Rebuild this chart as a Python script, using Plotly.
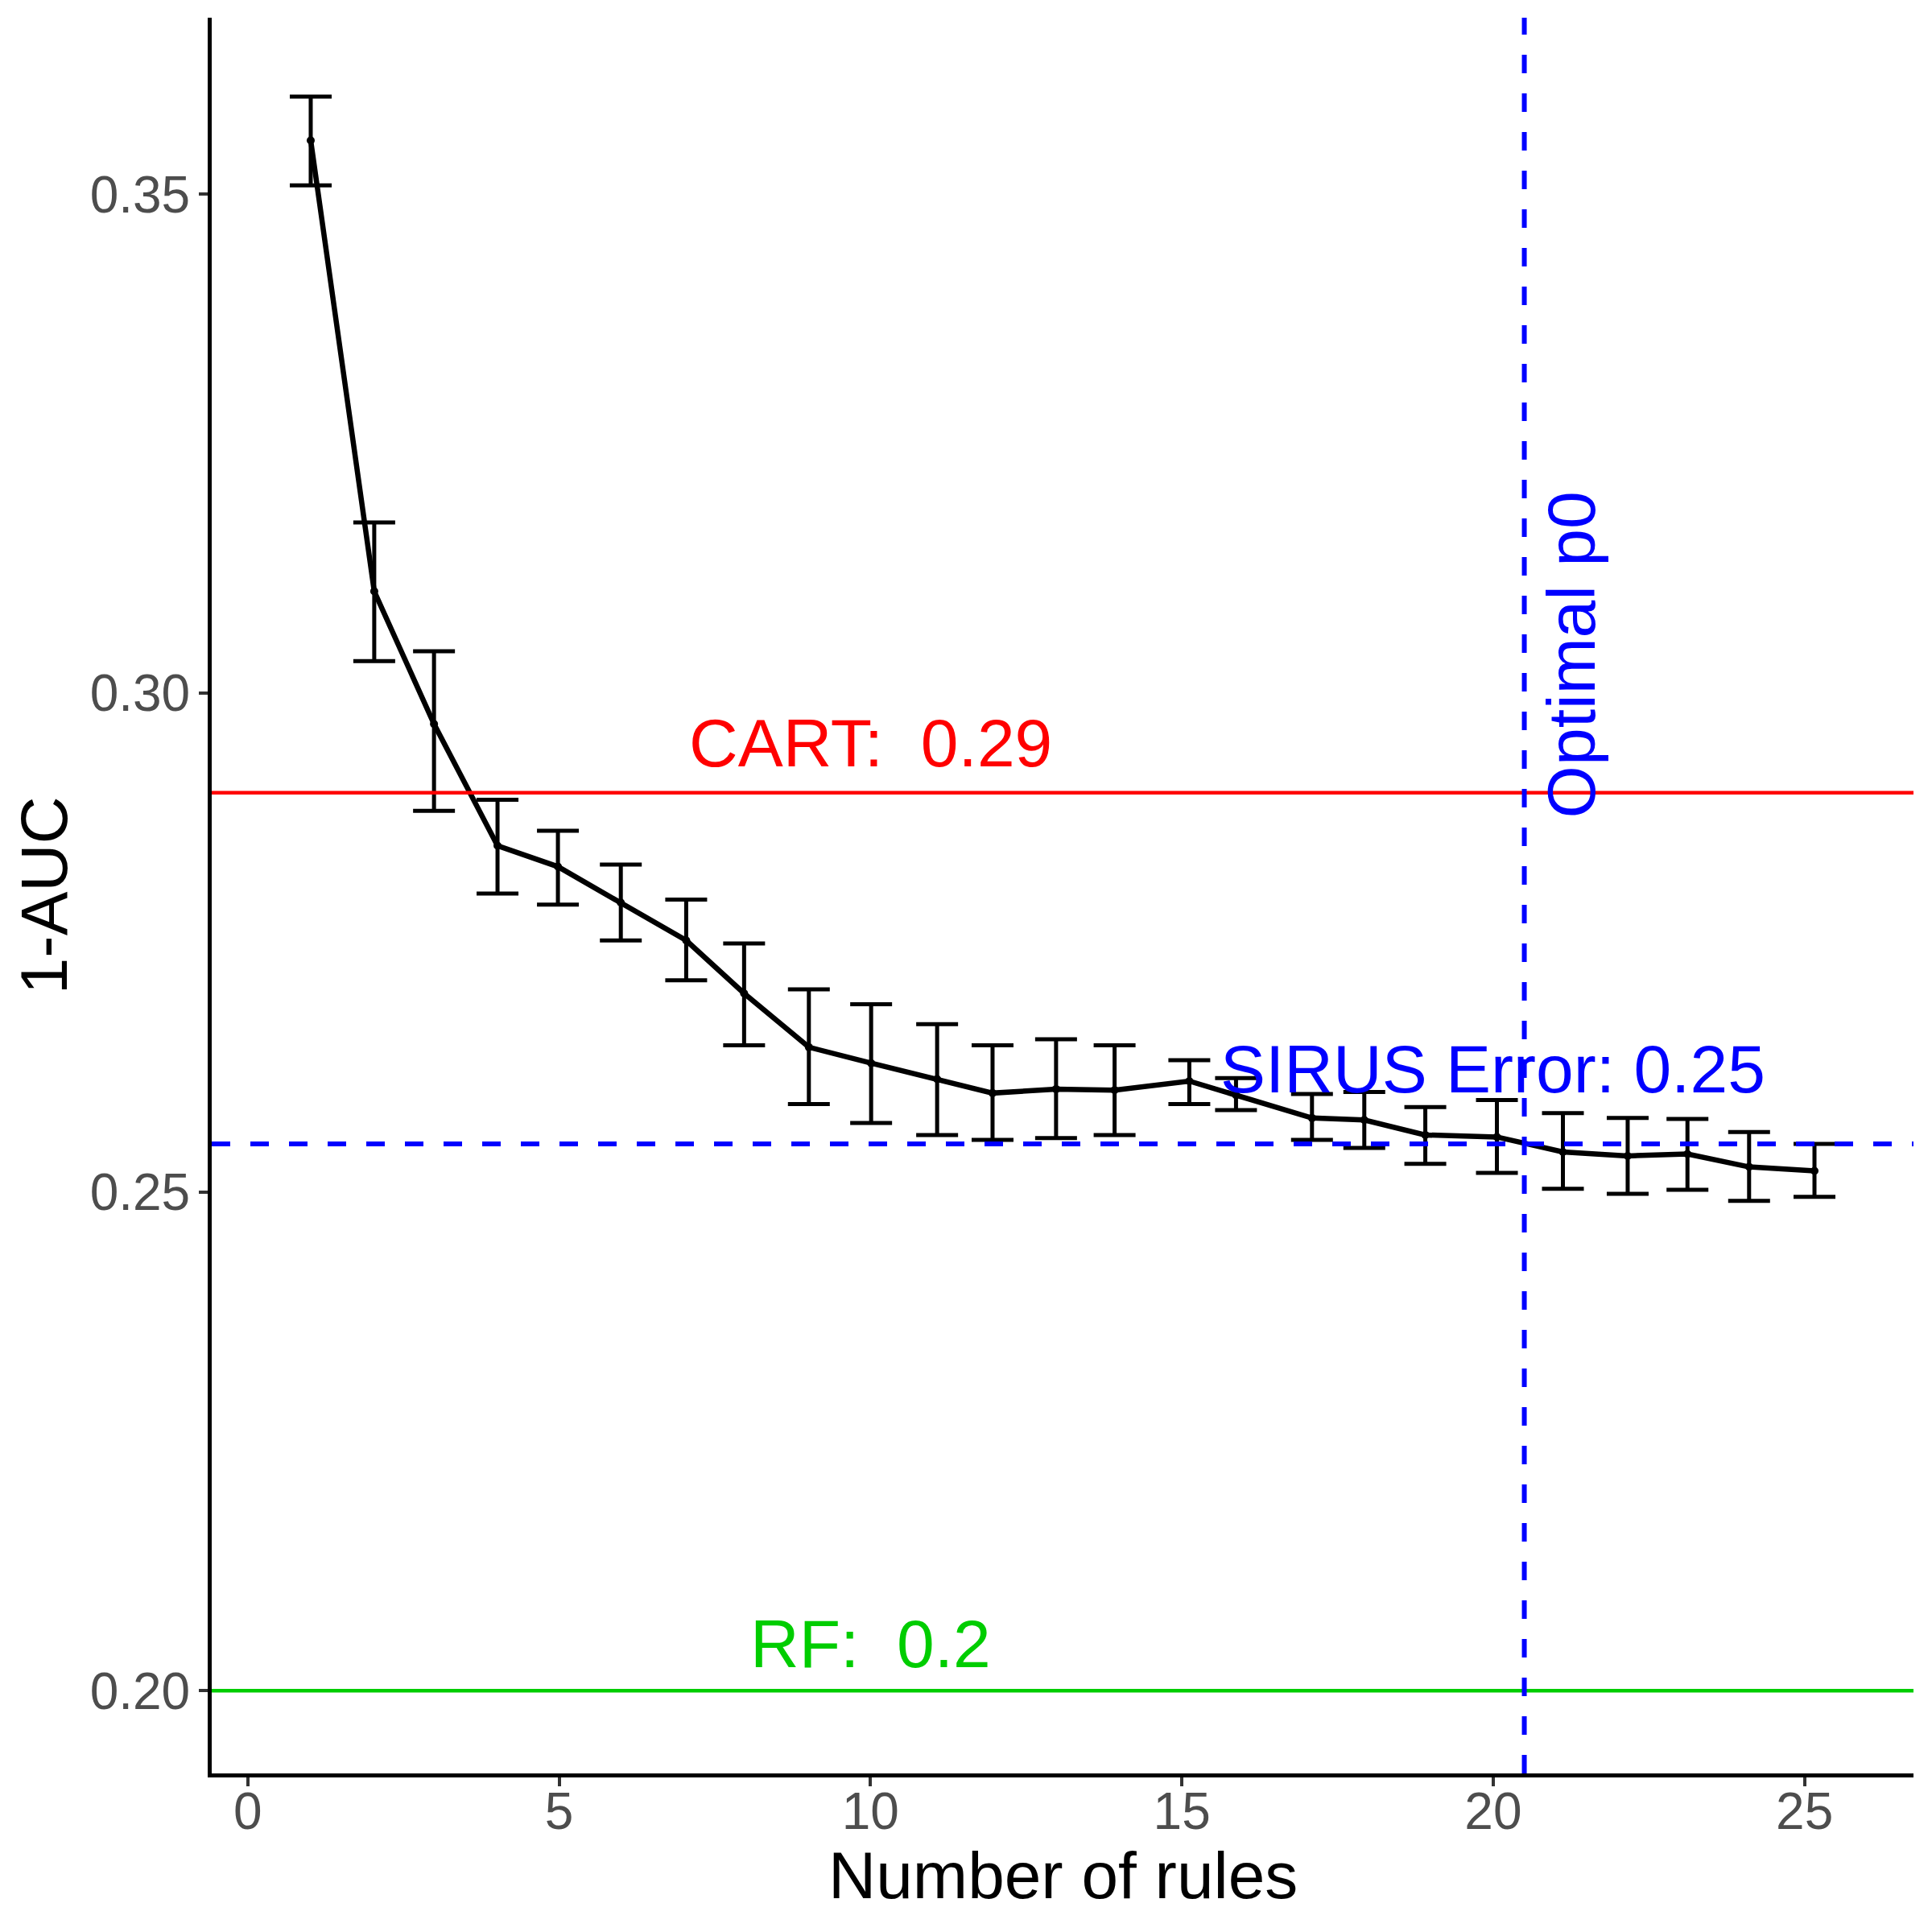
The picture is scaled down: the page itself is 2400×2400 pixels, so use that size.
import plotly.graph_objects as go

# ---------------- data ----------------
n_rules = [1.01, 2.03, 2.99, 4.01, 4.98, 5.99, 7.04, 7.97, 9.01, 10.01,
           11.07, 11.96, 12.98, 13.92, 15.12, 15.87, 17.09, 17.93, 18.91, 20.06,
           21.12, 22.16, 23.12, 24.11, 25.16]
err_mean = [0.3554, 0.3102, 0.2969, 0.2847, 0.2826, 0.2790, 0.2752, 0.2699, 0.2645, 0.2629,
            0.2613, 0.2599, 0.2603, 0.2602, 0.2611, 0.2597, 0.2574, 0.2572, 0.2557, 0.2555,
            0.2540, 0.2536, 0.2538, 0.2525, 0.2521]
err_upper = [0.3598, 0.3171, 0.3042, 0.2893, 0.2862, 0.2828, 0.2793, 0.2749, 0.2703, 0.2688,
             0.2668, 0.2647, 0.2653, 0.2647, 0.2632, 0.2614, 0.2598, 0.2600, 0.2585, 0.2592,
             0.2579, 0.2574, 0.2573, 0.2560, 0.2548]
err_lower = [0.3509, 0.3032, 0.2882, 0.2799, 0.2788, 0.2752, 0.2712, 0.2647, 0.2588, 0.2569,
             0.2557, 0.2552, 0.2554, 0.2557, 0.2588, 0.2582, 0.2552, 0.2544, 0.2528, 0.2519,
             0.2503, 0.2498, 0.2502, 0.2491, 0.2495]

cart_error = 0.29
rf_error = 0.20
sirus_error = 0.2548
optimal_p0 = 20.5

x_ticks = [0, 5, 10, 15, 20, 25]
y_ticks = [0.20, 0.25, 0.30, 0.35]
y_tick_labels = ["0.20", "0.25", "0.30", "0.35"]

cart_label = "CART: \u00a00.29"
rf_label = "RF: \u00a00.2"
sirus_label = "SIRUS Error: 0.25"
optimal_label = "Optimal p0"
x_title = "Number of rules"
y_title = "1-AUC"

# ---------------- styling ----------------
FONT = "Liberation Sans, Arial, sans-serif"
RED = "#FF0000"
GREEN = "#00CD00"
BLUE = "#0000FF"
ANN_SIZE = 84

err_plus = [u - m for u, m in zip(err_upper, err_mean)]
err_minus = [m - l for m, l in zip(err_mean, err_lower)]

fig = go.Figure()

fig.add_trace(go.Scatter(
    x=n_rules, y=err_mean, mode="lines+markers",
    line=dict(color="black", width=6.5),
    marker=dict(color="black", size=10),
    error_y=dict(type="data", symmetric=False, array=err_plus, arrayminus=err_minus,
                 color="black", thickness=5, width=26),
    showlegend=False,
))

shapes = [
    dict(type="line", xref="paper", x0=0, x1=1, yref="y", y0=cart_error, y1=cart_error,
         line=dict(color=RED, width=4.5), layer="above"),
    dict(type="line", xref="paper", x0=0, x1=1, yref="y", y0=rf_error, y1=rf_error,
         line=dict(color=GREEN, width=4.5), layer="above"),
    dict(type="line", xref="paper", x0=0, x1=1, yref="y", y0=sirus_error, y1=sirus_error,
         line=dict(color=BLUE, width=6, dash="23px,25px"), layer="above"),
    dict(type="line", xref="x", x0=optimal_p0, x1=optimal_p0, yref="paper", y0=0, y1=1,
         line=dict(color=BLUE, width=6, dash="23px,25px"), layer="above"),
]

annotations = [
    dict(text=cart_label, x=10, y=0.2950, xref="x", yref="y", showarrow=False,
         xanchor="center", yanchor="middle", font=dict(family=FONT, size=ANN_SIZE, color=RED)),
    dict(text=rf_label, x=10, y=0.2047, xref="x", yref="y", showarrow=False,
         xanchor="center", yanchor="middle", font=dict(family=FONT, size=ANN_SIZE, color=GREEN)),
    dict(text=sirus_label, x=20.0, y=0.2623, xref="x", yref="y", showarrow=False,
         xanchor="center", yanchor="middle", font=dict(family=FONT, size=ANN_SIZE, color=BLUE)),
    dict(text=optimal_label, x=21.25, y=0.3038, xref="x", yref="y", showarrow=False,
         textangle=-90, xanchor="center", yanchor="middle",
         font=dict(family=FONT, size=ANN_SIZE, color=BLUE)),
    dict(text=x_title, x=0.5, y=-0.0582, xref="paper", yref="paper", showarrow=False,
         xanchor="center", yanchor="middle", font=dict(family=FONT, size=82, color="black")),
    dict(text=y_title, x=-0.0985, y=0.5, xref="paper", yref="paper", showarrow=False,
         textangle=-90, xanchor="center", yanchor="middle",
         font=dict(family=FONT, size=82, color="black")),
]

axis_common = dict(
    showgrid=False, zeroline=False, showline=True, linecolor="black", linewidth=5,
    ticks="outside", ticklen=11, tickwidth=4, tickcolor="#333333",
    tickfont=dict(family=FONT, size=64, color="#4D4D4D"),
)

# the page body adds an 8px margin, so the figure is 2384px and margins are offset
fig.update_layout(
    width=2384, height=2384,
    margin=dict(l=255, r=15, t=14, b=189),
    paper_bgcolor="white", plot_bgcolor="white",
    showlegend=False,
    shapes=shapes,
    annotations=annotations,
    xaxis=dict(range=[-0.58, 26.75], tickvals=x_ticks, ticktext=[str(v) for v in x_ticks],
               ticklabelstandoff=-24, **axis_common),
    yaxis=dict(range=[0.1917, 0.3677], tickvals=y_ticks, ticktext=y_tick_labels,
               ticklabelstandoff=-2, **axis_common),
)

fig.write_html("out.html")
